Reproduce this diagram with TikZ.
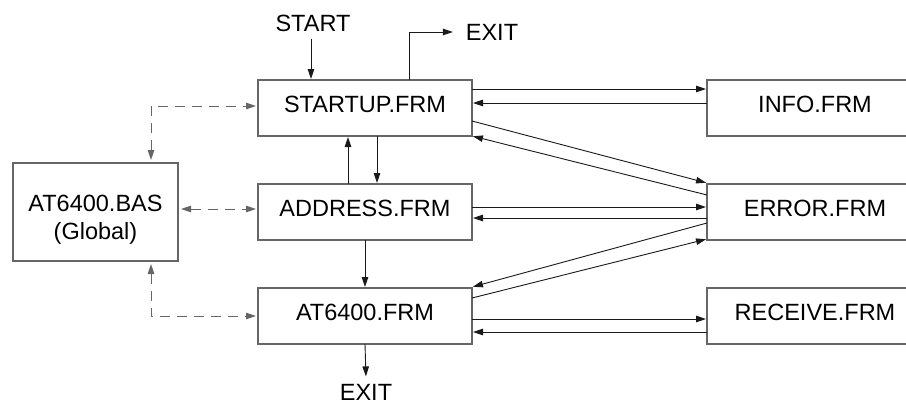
\documentclass[tikz,border=0pt]{standalone}
\usepackage{fontspec}
\setmainfont{Liberation Sans}
\usetikzlibrary{arrows.meta,calc}
\newcommand\diagfont{\fontsize{23.5}{28}\selectfont}
\begin{document}
\begin{tikzpicture}[x=1pt,y=-1pt,
  box/.style={draw=black!60, line width=1.5pt, minimum width=214pt, minimum height=56pt,
    inner sep=0pt, outer sep=0pt, font=\diagfont},
  frm/.style={text height=16.8pt, text depth=7pt},
  rbox/.style={minimum width=216pt},
  lbl/.style={inner sep=0pt, outer sep=0pt, font=\diagfont},
  con/.style={draw=black!90, line width=0.9pt, -{Triangle[length=10pt,width=6.5pt]}, shorten >=1pt},
  dashcon/.style={draw=black!60, line width=1pt, dash pattern=on 10pt off 7pt,
    {Triangle[length=10pt,width=6.5pt]}-{Triangle[length=10pt,width=6.5pt]}}
]
\useasboundingbox (0,0) rectangle (906,405);
\clip (0,0) rectangle (906,405);

% boxes
\node[box,frm] (startup) at (365,108) {STARTUP.FRM};
\node[box,frm] (address) at (365,212) {ADDRESS.FRM};
\node[box,frm] (atfrm)   at (365,316) {AT6400.FRM};
\node[box, minimum width=165pt, minimum height=98pt] (bas) at (95.5,212)
  {\raisebox{-8pt}[\height][\depth]{\begin{tabular}{@{}c@{}}AT6400.BAS\\(Global)\end{tabular}}};
\node[box,frm,rbox] (info)    at (815,108) {INFO.FRM};
\node[box,frm,rbox] (error)   at (815,212) {ERROR.FRM};
\node[box,frm,rbox] (receive) at (815,316) {RECEIVE.FRM};

% labels
\node[lbl] (start)   at (313,23.5) {START};
\node[lbl] (exittop) at (492,32)   {EXIT};
\node[lbl] (exitbot) at (366,392.5)  {EXIT};

% vertical flow
\draw[con] ($(start.south)+(-2,7)$) -- ($(startup.north)+(-54,0)$);
\draw[con] ($(startup.north)+(44,0)$) |- ($(exittop.west)+(-12,0)$);
\draw[con] ($(startup.south)+(12,0)$) -- ($(address.north)+(12,0)$);
\draw[con] ($(address.north)+(-17,0)$) -- ($(startup.south)+(-17,0)$);
\draw[con] (address.south) -- (atfrm.north);
\draw[con] (atfrm.south) -- ($(exitbot.north)+(0,-7)$);

% right side
\draw[con] ($(startup.north east)+(0,9)$)  -- ($(info.north west)+(0,9)$);
\draw[con] ($(info.north west)+(0,23)$)    -- ($(startup.north east)+(0,23)$);
\draw[con] ($(startup.north east)+(0,41)$) -- ($(error.north west)+(0,-1)$);
\draw[con] ($(error.north west)+(0,11)$)   -- (startup.south east);
\draw[con] ($(address.north east)+(0,23)$) -- ($(error.north west)+(0,23)$);
\draw[con] ($(error.north west)+(0,34)$)   -- ($(address.north east)+(0,34)$);
\draw[con] ($(error.north west)+(0,39)$)   -- ($(atfrm.north east)+(0,-1)$);
\draw[con] ($(atfrm.north east)+(0,10)$)   -- ($(error.south west)+(0,-1)$);
\draw[con] ($(atfrm.north east)+(0,31)$)   -- ($(receive.north west)+(0,31)$);
\draw[con] ($(receive.north west)+(0,44)$) -- ($(atfrm.north east)+(0,44)$);

% dashed links to global module
\draw[dashcon] ($(bas.north east)+(-27,-3)$) |- ($(startup.west)+(-2,-2)$);
\draw[dashcon] ($(bas.east)+(3,-3)$) -- ($(address.west)+(-2,-3)$);
\draw[dashcon] ($(bas.south east)+(-27,3)$) |- ($(atfrm.west)+(-2,0)$);
\end{tikzpicture}
\end{document}
